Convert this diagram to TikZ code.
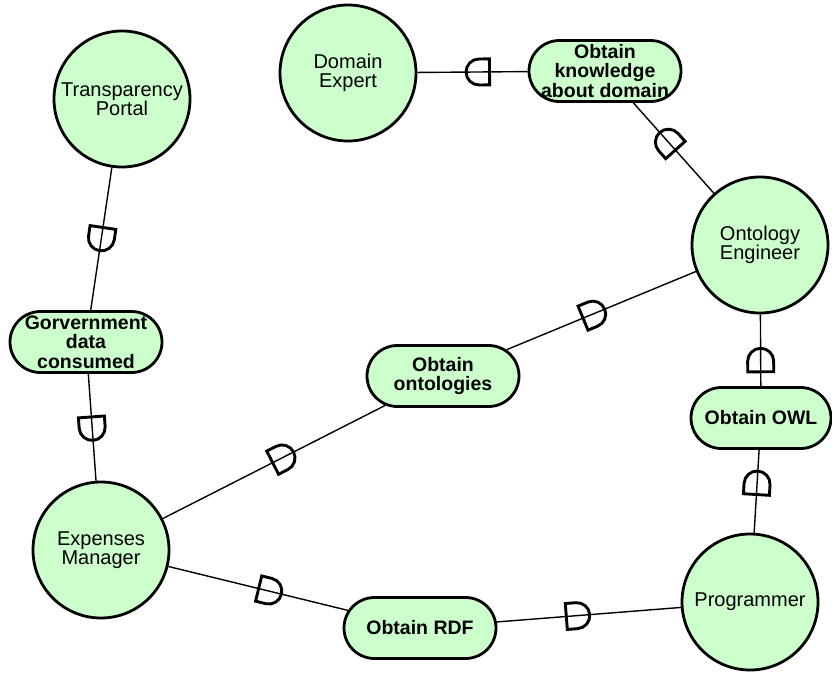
\documentclass[tikz,border=0pt]{standalone}
\usepackage{fontspec}
\setmainfont{Liberation Sans}
\usetikzlibrary{shapes.misc, decorations.markings}

\definecolor{istarfill}{RGB}{204,255,204}
\newcommand{\gl}[1]{\makebox[0pt]{#1}}

\begin{document}
\begin{tikzpicture}[
  x=1pt, y=-1pt,
  actor/.style={draw, circle, line width=2.8pt, fill=istarfill, minimum size=136pt, inner sep=0pt, align=center, font=\fontsize{20}{19.5}\selectfont},
  goal/.style={draw, rounded rectangle, line width=2.8pt, fill=istarfill, minimum width=152pt, minimum height=61pt, inner sep=0pt, align=center, font=\fontsize{19.5}{19.5}\selectfont\bfseries},
  dmark/.style={line width=2.9pt, line join=miter},
  dep/.style={line width=1.4pt, postaction={decorate, decoration={markings, mark=at position #1 with {\draw[dmark] (-11.5,-13) -- (-11.5,13) -- (-1,13) arc[start angle=90, end angle=-90, radius=13] -- cycle;}}}}
]
  \useasboundingbox (0,0) rectangle (832,672);
  \node[actor] (tp) at (122,99) {Transparency\\Portal};
  \node[actor] (de) at (348,73) {Domain\\Expert};
  \node[actor] (oe) at (760,245) {Ontology\\Engineer};
  \node[actor] (em) at (101,550) {Expenses\\Manager};
  \node[actor] (pr) at (750,602) {Programmer};
  \node[goal] (kn) at (605,71) {\gl{Obtain}\\\gl{knowledge}\\\gl{about domain}};
  \node[goal] (gd) at (86,342) {\gl{Gorvernment}\\\gl{data}\\\gl{consumed}};
  \node[goal] (on) at (443,376) {\gl{Obtain}\\\gl{ontologies}};
  \node[goal, minimum width=140pt] (owl) at (761,418) {\gl{Obtain OWL}};
  \node[goal] (rdf) at (420,628) {\gl{Obtain RDF}};
  \draw[dep=0.45] (kn) -- (de);
  \draw[dep=0.575] (oe) -- (kn);
  \draw[dep=0.5] (tp) -- (gd);
  \draw[dep=0.51] (gd) -- (em);
  \draw[dep=0.54] (em) -- (on);
  \draw[dep=0.46] (on) -- (oe);
  \draw[dep=0.36] (owl) -- (oe);
  \draw[dep=0.6] (pr) -- (owl);
  \draw[dep=0.565] (em) -- (rdf);
  \draw[dep=0.44] (rdf) -- (pr);
\end{tikzpicture}
\end{document}
